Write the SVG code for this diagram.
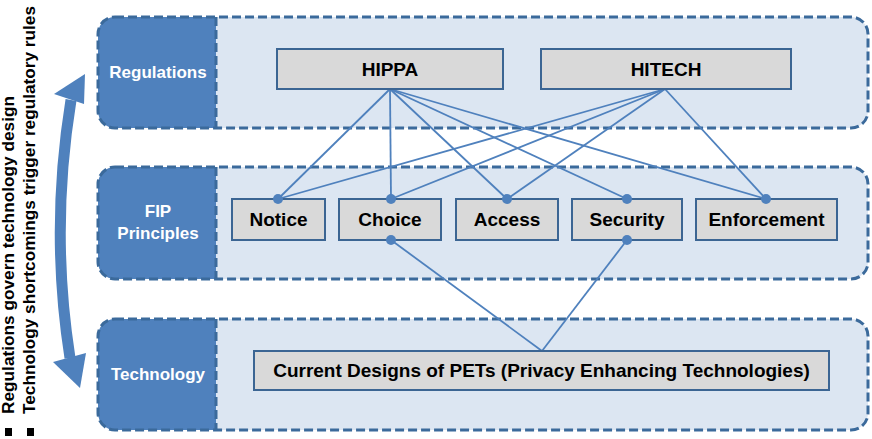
<svg xmlns="http://www.w3.org/2000/svg" width="872" height="439" viewBox="0 0 872 439">
<style>
.bandfill{fill:#dce6f2;stroke:none}
.blk{fill:#4f81bd;stroke:none}
.dash{fill:none;stroke:#3b6a9b;stroke-width:3;stroke-dasharray:9 4}
.lbl{font-family:"Liberation Sans",Arial,sans-serif;font-weight:bold;font-size:17px;fill:#ffffff;text-anchor:middle}
.box{fill:#d9d9d9;stroke:#3b6593;stroke-width:2}
.bt{font-family:"Liberation Sans",Arial,sans-serif;font-weight:bold;font-size:19px;fill:#000000;text-anchor:middle}
.con{stroke:#4f81bd;stroke-width:1.8;fill:none}
.dot{fill:#4f81bd}
.side{font-family:"Liberation Sans",Arial,sans-serif;font-weight:bold;font-size:17px;fill:#000000}
</style>
<rect x="0" y="0" width="872" height="439" fill="#ffffff"/>

<g id="band-regulations">
  <rect class="bandfill" x="98" y="17" width="770" height="111" rx="17"/>
  <path class="blk" d="M115,17 H216 V128 H115 A17,17 0 0 1 98,111 V34 A17,17 0 0 1 115,17 Z"/>
  <rect class="dash" x="98" y="17" width="770" height="111" rx="17"/>
  <line class="dash" x1="216" y1="17" x2="216" y2="128"/>
  <text class="lbl" x="158" y="78">Regulations</text>
</g>
<g id="band-fip">
  <rect class="bandfill" x="98" y="167" width="770" height="112" rx="17"/>
  <path class="blk" d="M115,167 H216 V279 H115 A17,17 0 0 1 98,262 V184 A17,17 0 0 1 115,167 Z"/>
  <rect class="dash" x="98" y="167" width="770" height="112" rx="17"/>
  <line class="dash" x1="216" y1="167" x2="216" y2="279"/>
  <text class="lbl" x="158" y="217">FIP</text>
  <text class="lbl" x="158" y="239">Principles</text>
</g>
<g id="band-technology">
  <rect class="bandfill" x="98" y="319" width="770" height="111" rx="17"/>
  <path class="blk" d="M115,319 H216 V430 H115 A17,17 0 0 1 98,413 V336 A17,17 0 0 1 115,319 Z"/>
  <rect class="dash" x="98" y="319" width="770" height="111" rx="17"/>
  <line class="dash" x1="216" y1="319" x2="216" y2="430"/>
  <text class="lbl" x="158" y="380">Technology</text>
</g>

<g id="connectors">
  <line class="con" x1="390" y1="89" x2="278" y2="199"/>
  <line class="con" x1="390" y1="89" x2="391" y2="199"/>
  <line class="con" x1="390" y1="89" x2="507" y2="199"/>
  <line class="con" x1="390" y1="89" x2="627" y2="199"/>
  <line class="con" x1="390" y1="89" x2="766" y2="199"/>
  <line class="con" x1="665" y1="89" x2="278" y2="199"/>
  <line class="con" x1="665" y1="89" x2="391" y2="199"/>
  <line class="con" x1="665" y1="89" x2="507" y2="199"/>
  <line class="con" x1="665" y1="89" x2="766" y2="199"/>
  <line class="con" x1="391" y1="240" x2="542" y2="351"/>
  <line class="con" x1="627" y1="240" x2="542" y2="351"/>
</g>

<g id="node-hippa"><rect class="box" x="277" y="49" width="226" height="40"/><text class="bt" x="390" y="76">HIPPA</text></g>
<g id="node-hitech"><rect class="box" x="541" y="49" width="250" height="40"/><text class="bt" x="666" y="76">HITECH</text></g>
<g id="node-notice"><rect class="box" x="232" y="199" width="93" height="41"/><text class="bt" x="278.5" y="226">Notice</text></g>
<g id="node-choice"><rect class="box" x="339" y="199" width="102" height="41"/><text class="bt" x="390" y="226">Choice</text></g>
<g id="node-access"><rect class="box" x="456" y="199" width="102" height="41"/><text class="bt" x="507" y="226">Access</text></g>
<g id="node-security"><rect class="box" x="572" y="199" width="110" height="41"/><text class="bt" x="627" y="226">Security</text></g>
<g id="node-enforcement"><rect class="box" x="696" y="199" width="141" height="41"/><text class="bt" x="766.5" y="226">Enforcement</text></g>
<g id="node-pets"><rect class="box" x="254" y="351" width="575" height="39"/><text class="bt" x="541.5" y="377">Current Designs of PETs (Privacy Enhancing Technologies)</text></g>

<g id="connector-dots">
  <circle class="dot" cx="278" cy="199" r="5"/>
  <circle class="dot" cx="391" cy="199" r="5"/>
  <circle class="dot" cx="391" cy="240" r="5"/>
  <circle class="dot" cx="507" cy="199" r="5"/>
  <circle class="dot" cx="627" cy="199" r="5"/>
  <circle class="dot" cx="627" cy="240" r="5"/>
  <circle class="dot" cx="766" cy="199" r="5"/>
</g>

<g id="cycle-arrow">
  <path d="M71,100 Q50,230 70,358" fill="none" stroke="#4f81bd" stroke-width="11"/>
  <polygon points="85,74 54,94 84,104" fill="#4f81bd"/>
  <polygon points="80,388 53,362 86,353" fill="#4f81bd"/>
</g>

<g id="side-notes">
  <rect x="5" y="428" width="7" height="8" fill="#000"/>
  <rect x="27" y="428" width="7" height="8" fill="#000"/>
  <text class="side" transform="translate(14,414) rotate(-90)" textLength="318" lengthAdjust="spacingAndGlyphs">Regulations govern technology design</text>
  <text class="side" transform="translate(35,414) rotate(-90)" textLength="408" lengthAdjust="spacingAndGlyphs">Technology shortcomings trigger regulatory rules</text>
</g>
</svg>
